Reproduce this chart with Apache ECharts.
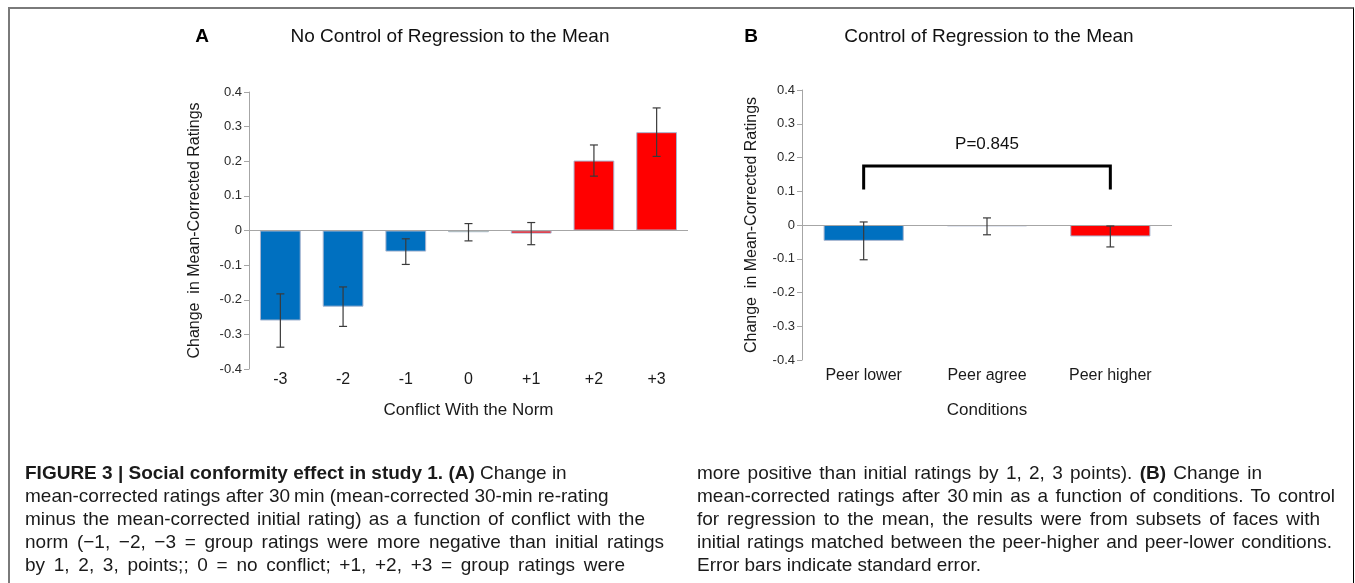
<!DOCTYPE html>
<html>
<head>
<meta charset="utf-8">
<script src="https://cdn.jsdelivr.net/npm/echarts@6/dist/echarts.min.js"></script>
<style>
  html, body { margin: 0; padding: 0; background: #fff; }
  #frame {
    position: absolute; left: 8px; top: 7px; width: 1343px; height: 600px;
    border-top: 2px solid #7a7a7a; border-left: 2px solid #7a7a7a; border-right: 1px solid #000;
  }
  #chart { position: absolute; left: 0; top: 0; width: 1355px; height: 583px; }
  .cap {
    position: absolute; font-family: 'Liberation Sans', Arial, sans-serif;
    font-size: 19px; line-height: 23px; color: #1a1a1a;
  }
  .cap div { white-space: nowrap; text-align: justify; text-align-last: justify; }
  .cap div.last { text-align-last: left; }
  .cap b { font-weight: bold; }
</style>
</head>
<body>
<div id="frame"></div>
<div id="chart"></div>
<div class="cap" style="left:25px; top:461px;">
  <div class="last"><b>FIGURE 3 | Social conformity effect in study 1. (A)</b> Change in</div>
  <div class="last">mean-corrected ratings after 30&#8201;min (mean-corrected 30-min re-rating</div>
  <div style="width:620px">minus the mean-corrected initial rating) as a function of conflict with the</div>
  <div style="width:639px">norm (&minus;1, &minus;2, &minus;3 = group ratings were more negative than initial ratings</div>
  <div style="width:600px">by 1, 2, 3, points;; 0 = no conflict; +1, +2, +3 = group ratings were</div>
</div>
<div class="cap" style="left:697px; top:461px;">
  <div style="width:565px">more positive than initial ratings by 1, 2, 3 points). <b>(B)</b> Change in</div>
  <div style="width:638px">mean-corrected ratings after 30&#8201;min as a function of conditions. To control</div>
  <div style="width:623px">for regression to the mean, the results were from subsets of faces with</div>
  <div style="width:635px">initial ratings matched between the peer-higher and peer-lower conditions.</div>
  <div class="last">Error bars indicate standard error.</div>
</div>
<script>
// panel A: conflict with the norm
const conflictLevels = ['-3', '-2', '-1', '0', '+1', '+2', '+3']
const meanA = [-0.26, -0.22, -0.061, -0.005, -0.009, 0.202, 0.284]
const seA = [0.077, 0.057, 0.037, 0.025, 0.032, 0.045, 0.07]

// panel B: conditions
const conditions = ['Peer lower', 'Peer agree', 'Peer higher']
const meanB = [-0.047, -0.004, -0.034]
const seB = [0.056, 0.025, 0.031]

// significance bracket between peer lower and peer higher
const bracketTop = 0.175
const bracketLeg = 0.105
const pLabel = 'P=0.845'

const yTicks = { min: -0.4, max: 0.4, interval: 0.1 }

const BLUE = '#0070c0'
const RED = '#ff0000'
const YELLOW = '#ffff00'
const colorsA = [BLUE, BLUE, BLUE, YELLOW, RED, RED, RED]
const colorsB = [BLUE, YELLOW, RED]

const FONT = "'Liberation Sans', Arial, sans-serif"
const chart = echarts.init(document.getElementById('chart'))

function barData (means, colors) {
  return means.map((v, i) => ({
    value: v,
    itemStyle: { color: colors[i], borderColor: '#a7b5d0', borderWidth: 1 }
  }))
}

function errData (means, ses) {
  return means.map((m, i) => [i, m - ses[i], m + ses[i]])
}

function renderErr (params, api) {
  const lo = api.coord([api.value(0), api.value(1)])
  const hi = api.coord([api.value(0), api.value(2)])
  const cap = 4
  const style = { stroke: '#3a3a3a', lineWidth: 1.2 }
  return {
    type: 'group',
    children: [
      { type: 'line', shape: { x1: hi[0], y1: hi[1], x2: lo[0], y2: lo[1] }, style },
      { type: 'line', shape: { x1: hi[0] - cap, y1: hi[1], x2: hi[0] + cap, y2: hi[1] }, style },
      { type: 'line', shape: { x1: lo[0] - cap, y1: lo[1], x2: lo[0] + cap, y2: lo[1] }, style }
    ]
  }
}

function renderBracket (params, api) {
  const a = api.coord([api.value(0), bracketLeg])
  const b = api.coord([api.value(1), bracketLeg])
  const ta = api.coord([api.value(0), bracketTop])
  const tb = api.coord([api.value(1), bracketTop])
  return {
    type: 'group',
    children: [
      {
        type: 'polyline',
        shape: { points: [a, ta, tb, b] },
        style: { stroke: '#000', lineWidth: 3, fill: null }
      },
      {
        type: 'text',
        x: (ta[0] + tb[0]) / 2,
        y: ta[1] - 22,
        style: { text: pLabel, font: '17px ' + FONT, fill: '#111', align: 'center', verticalAlign: 'middle' }
      }
    ]
  }
}

function yAxisCfg (gridIndex, nameGap) {
  return {
    type: 'value',
    gridIndex,
    min: yTicks.min,
    max: yTicks.max,
    interval: yTicks.interval,
    name: 'Change  in Mean-Corrected Ratings',
    nameLocation: 'middle',
    nameGap,
    nameTextStyle: { fontFamily: FONT, fontSize: 16, color: '#1a1a1a' },
    axisLine: { show: true, lineStyle: { color: '#a6a6a6', width: 1 } },
    axisTick: { show: true, length: 5, lineStyle: { color: '#a6a6a6' } },
    splitLine: { show: false },
    axisLabel: {
      fontFamily: FONT,
      fontSize: 13,
      color: '#2a2a2a',
      margin: 7,
      formatter: v => String(Math.round(v * 10) / 10)
    }
  }
}

function xAxisCfg (gridIndex, data, name, margin, nameGap) {
  return {
    type: 'category',
    gridIndex,
    data,
    name,
    nameLocation: 'middle',
    nameGap,
    nameTextStyle: { fontFamily: FONT, fontSize: 17, color: '#1a1a1a' },
    axisLine: { show: false, onZero: false },
    axisTick: { show: false },
    axisLabel: { fontFamily: FONT, fontSize: 16, color: '#1a1a1a', margin, interval: 0 }
  }
}

const zeroLine = {
  silent: true,
  symbol: ['none', 'none'],
  label: { show: false },
  lineStyle: { color: '#a6a6a6', type: 'solid', width: 1 },
  data: [{ yAxis: 0 }]
}

const option = {
  animation: false,
  textStyle: { fontFamily: FONT },
  grid: [
    { left: 249, top: 92, width: 439, height: 277 },
    { left: 802, top: 90, width: 370, height: 270 }
  ],
  xAxis: [
    xAxisCfg(0, conflictLevels, 'Conflict With the Norm', 3, 33),
    xAxisCfg(1, conditions, 'Conditions', 8, 42)
  ],
  yAxis: [yAxisCfg(0, 46), yAxisCfg(1, 42)],
  graphic: [
    { type: 'text', x: 202, y: 37, style: { text: 'A', font: 'bold 19px ' + FONT, fill: '#000', align: 'center', verticalAlign: 'middle' } },
    { type: 'text', x: 450, y: 37, style: { text: 'No Control of Regression to the Mean', font: '19px ' + FONT, fill: '#111', align: 'center', verticalAlign: 'middle' } },
    { type: 'text', x: 751, y: 37, style: { text: 'B', font: 'bold 19px ' + FONT, fill: '#000', align: 'center', verticalAlign: 'middle' } },
    { type: 'text', x: 989, y: 37, style: { text: 'Control of Regression to the Mean', font: '19px ' + FONT, fill: '#111', align: 'center', verticalAlign: 'middle' } }
  ],
  series: [
    {
      type: 'bar',
      xAxisIndex: 0,
      yAxisIndex: 0,
      barCategoryGap: '35%',
      data: barData(meanA, colorsA),
      markLine: zeroLine
    },
    {
      type: 'custom',
      xAxisIndex: 0,
      yAxisIndex: 0,
      renderItem: renderErr,
      data: errData(meanA, seA),
      z: 5
    },
    {
      type: 'bar',
      xAxisIndex: 1,
      yAxisIndex: 1,
      barCategoryGap: '35%',
      data: barData(meanB, colorsB),
      markLine: zeroLine
    },
    {
      type: 'custom',
      xAxisIndex: 1,
      yAxisIndex: 1,
      renderItem: renderErr,
      data: errData(meanB, seB),
      z: 5
    },
    {
      type: 'custom',
      xAxisIndex: 1,
      yAxisIndex: 1,
      renderItem: renderBracket,
      data: [[0, 2]],
      z: 6
    }
  ]
}

chart.setOption(option)
</script>
</body>
</html>
